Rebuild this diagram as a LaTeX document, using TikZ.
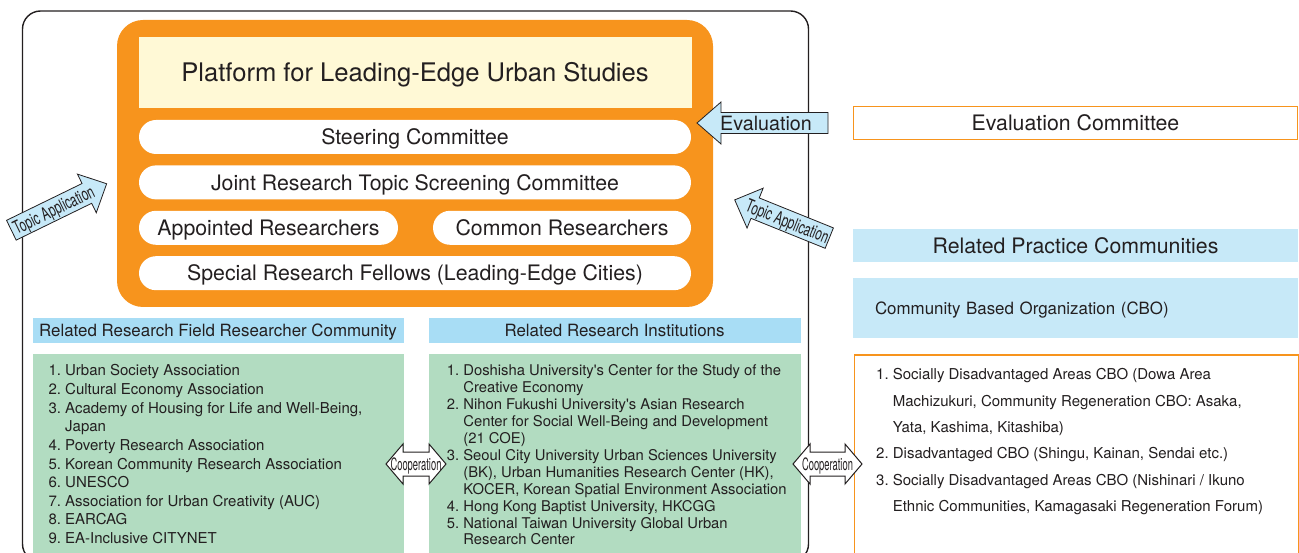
\documentclass[tikz,border=0pt]{standalone}
\usepackage{fontspec}
\setmainfont{TeX Gyre Heros}[Ligatures=TeXOff]
\usetikzlibrary{positioning}

\definecolor{platorange}{RGB}{247,148,29}
\definecolor{platyellow}{RGB}{255,249,214}
\definecolor{headblue}{RGB}{168,221,245}
\definecolor{paleblue}{RGB}{199,233,248}
\definecolor{listgreen}{RGB}{178,220,193}
\definecolor{inkgray}{RGB}{35,31,32}

% arrow outlines: half length, half shaft, half head, head length
\newcommand{\singlearrowpath}[4]{%
  (-#1,-#2) -- ({#1-#4},-#2) -- ({#1-#4},-#3) -- (#1,0) -- ({#1-#4},#3) -- ({#1-#4},#2) -- (-#1,#2) -- cycle}
\newcommand{\doublearrowpath}[4]{%
  (-#1,0) -- ({#4-#1},-#3) -- ({#4-#1},-#2) -- ({#1-#4},-#2) -- ({#1-#4},-#3) -- (#1,0) -- ({#1-#4},#3) -- ({#1-#4},#2) -- ({#4-#1},#2) -- ({#4-#1},#3) -- cycle}

\tikzset{
  pill/.style={fill=white, rounded corners=17pt, minimum height=34pt,
    font=\fontsize{21.3}{25}\selectfont, text height=15.3pt, text depth=0pt},
  headbar/.style={fill=headblue, minimum height=25pt,
    font=\fontsize{16.9}{20}\selectfont, text height=12.2pt, text depth=0pt},
  listbox/.style={fill=listgreen, anchor=north west},
  listtext/.style={anchor=base west, align=left},
  bluearrow/.style={fill=paleblue, draw=inkgray, line width=.8pt},
  cooparrow/.style={fill=white, draw=inkgray, line width=1pt},
  topiclabel/.style={font=\fontsize{18}{18}\selectfont, text height=13pt, text depth=0pt},
  cooplabel/.style={font=\fontsize{17}{17}\selectfont, text height=12.2pt, text depth=0pt},
  sidebox/.style={minimum width=444pt, font=\fontsize{21.3}{25}\selectfont, text height=15.3pt, text depth=0pt}
}

\begin{document}
\begin{tikzpicture}[x=1pt, y=-1pt, inner sep=0pt, text=inkgray]
\clip (0,0) rectangle (1299,553);

% outer frame
\draw[line width=1.4pt, draw=inkgray, rounded corners=18pt] (22.5,11) rectangle (808.5,562);

% platform
\node[fill=platorange, rounded corners=26pt, minimum width=596pt, minimum height=287pt] (platform) at (415,163.5) {};
\node[fill=platyellow, minimum width=553pt, minimum height=71pt,
  font=\fontsize{25.6}{30}\selectfont, text height=18.4pt, text depth=0pt] (title) at (415,72.5) {Platform for Leading-Edge Urban Studies};
\node[pill, minimum width=552pt] (steering) at (415,137) {Steering Committee};
\node[pill, minimum width=552pt, below=11pt of steering] (screening) {Joint Research Topic Screening Committee};
\node[pill, minimum width=259pt, below=11pt of screening.south west, anchor=north west] (appointed) {Appointed Researchers};
\node[pill, minimum width=258pt, below=11pt of screening.south east, anchor=north east] (common) {Common Researchers};
\node[pill, minimum width=552pt, below=11pt of appointed.south west, anchor=north west] (fellows) {Special Research Fellows (Leading-Edge Cities)};

% researcher community
\node[headbar, minimum width=371pt] (fieldhead) at (218,330.5) {Related Research Field Researcher Community};
\node[listbox, minimum width=371pt, minimum height=210pt] (fieldlist) at (32.5,353.5) {};
\node[listtext, font=\fontsize{15}{18.6}\selectfont] (fielditems) at (48.3,376) {%
  \begin{tabular}[t]{@{}l@{\hspace{.278em}}l@{}}
  1. & Urban Society Association\\
  2. & Cultural Economy Association\\
  3. & Academy of Housing for Life and Well-Being,\\
     & Japan\\
  4. & Poverty Research Association\\
  5. & Korean Community Research Association\\
  6. & UNESCO\\
  7. & Association for Urban Creativity (AUC)\\
  8. & EARCAG\\
  9. & EA-Inclusive CITYNET
  \end{tabular}};

% institutions
\node[headbar, minimum width=372pt] (insthead) at (614.5,330.5) {Related Research Institutions};
\node[listbox, minimum width=372pt, minimum height=210pt] (instlist) at (428.5,353.5) {};
\node[listtext, font=\fontsize{14.8}{16.9}\selectfont] (institems) at (446.7,376) {%
  \begin{tabular}[t]{@{}l@{\hspace{.278em}}l@{}}
  1. & Doshisha University's Center for the Study of the\\
     & Creative Economy\\
  2. & Nihon Fukushi University's Asian Research\\
     & Center for Social Well-Being and Development\\
     & (21 COE)\\
  3. & Seoul City University Urban Sciences University\\
     & (BK), Urban Humanities Research Center (HK),\\
     & KOCER, Korean Spatial Environment Association\\
  4. & Hong Kong Baptist University, HKCGG\\
  5. & National Taiwan University Global Urban\\
     & Research Center
  \end{tabular}};

% practice side
\node[sidebox, draw=platorange, line width=1.3pt, fill=white, minimum height=33pt] (evalcom) at (1075.5,123) {Evaluation Committee};
\node[sidebox, fill=paleblue, minimum width=445pt, minimum height=33pt] (practicehead) at (1075.5,246) {Related Practice Communities};
\node[fill=paleblue, minimum width=445pt, minimum height=60pt, text width=401pt, inner xsep=22pt, align=left,
  font=\fontsize{16.9}{20}\selectfont, text height=12.2pt, text depth=0pt] (cbo) at (1075.5,308.5) {Community Based Organization (CBO)};
\node[draw=platorange, line width=1.3pt, fill=white, minimum width=444pt, minimum height=230pt, anchor=north west] (cbolist) at (853.5,354.5) {};
\node[listtext, font=\fontsize{15}{26.3}\selectfont] (cboitems) at (876,380) {%
  \begin{tabular}[t]{@{}l@{\hspace{.278em}}l@{}}
  1. & Socially Disadvantaged Areas CBO (Dowa Area\\
     & Machizukuri, Community Regeneration CBO: Asaka,\\
     & Yata, Kashima, Kitashiba)\\
  2. & Disadvantaged CBO (Shingu, Kainan, Sendai etc.)\\
  3. & Socially Disadvantaged Areas CBO (Nishinari / Ikuno\\
     & Ethnic Communities, Kamagasaki Regeneration Forum)
  \end{tabular}};

% evaluation arrow
\begin{scope}[shift={(762.5,123)}, xscale=-1]
  \draw[bluearrow] \singlearrowpath{65.5}{10.5}{21}{24};
  \node[font=\fontsize{19.7}{20}\selectfont, text height=14.2pt, text depth=0pt] (evaltag) at (-3.5,0) {Evaluation};
\end{scope}

% topic application arrows
\begin{scope}[shift={(59,207)}, rotate=26]
  \draw[bluearrow] \singlearrowpath{53}{11}{21.5}{22};
  \node[topiclabel, rotate=26] (topicleft) at (-6,0) {\scalebox{.65}[1]{Topic Application}};
\end{scope}
\begin{scope}[shift={(782,219)}, rotate=-22, xscale=-1]
  \draw[bluearrow] \singlearrowpath{51}{11}{21.5}{22};
  \node[topiclabel, rotate=-22] (topicright) at (-6,0) {\scalebox{.65}[1]{Topic Application}};
\end{scope}

% cooperation arrows
\begin{scope}[shift={(416,464)}]
  \draw[cooparrow] \doublearrowpath{30}{12}{20}{17};
  \node[cooplabel] (coopleft) at (0,0) {\scalebox{.55}[1]{Cooperation}};
\end{scope}
\begin{scope}[shift={(827.5,464)}]
  \draw[cooparrow] \doublearrowpath{34.5}{12}{20}{17};
  \node[cooplabel] (coopright) at (0,0) {\scalebox{.55}[1]{Cooperation}};
\end{scope}
\end{tikzpicture}
\end{document}
